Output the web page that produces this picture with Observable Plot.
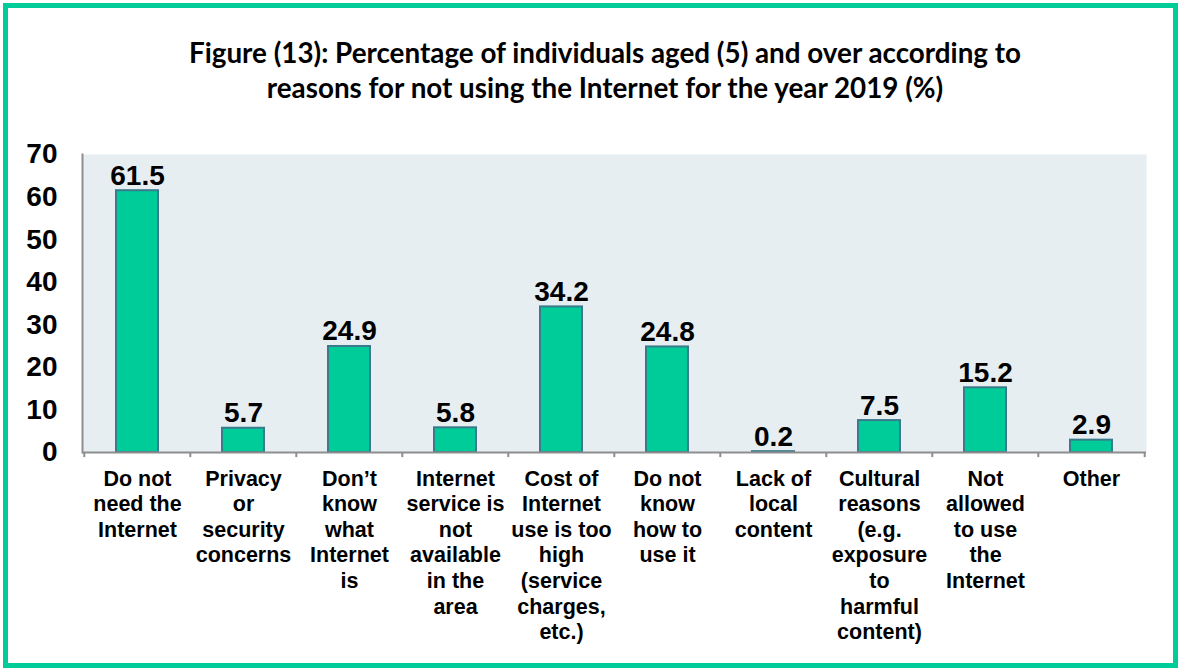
<!DOCTYPE html>
<html>
<head>
<meta charset="utf-8">
<script src="https://cdn.jsdelivr.net/npm/d3@7"></script>
<script src="https://cdn.jsdelivr.net/npm/@observablehq/plot@0.6"></script>
<style>
  html, body { margin: 0; padding: 0; background: #fff; }
  #wrap { position: relative; width: 1178px; height: 668px; overflow: hidden; }
  #border { position: absolute; left: 3px; top: 3px; width: 1175px; height: 665px; box-sizing: border-box; border: 5px solid #00CC99; }
  #title { position: absolute; left: 0; top: 35px; width: 1210px; text-align: center; font-family: Lato, "Open Sans", sans-serif; font-weight: bold; font-size: 27.8px; line-height: 35px; color: #000; }
  #chart { position: absolute; left: 0; top: 0; }
</style>
</head>
<body>
<div id="wrap">
  <div id="border"></div>
  <div id="title">Figure (13): Percentage of individuals aged (5) and over according to<br>reasons for not using the Internet for the year 2019 (%)</div>
  <div id="chart"></div>
</div>
<script>
const categories = [
  "Do not\nneed the\nInternet",
  "Privacy\nor\nsecurity\nconcerns",
  "Don’t\nknow\nwhat\nInternet\nis",
  "Internet\nservice is\nnot\navailable\nin the\narea",
  "Cost of\nInternet\nuse is too\nhigh\n(service\ncharges,\netc.)",
  "Do not\nknow\nhow to\nuse it",
  "Lack of\nlocal\ncontent",
  "Cultural\nreasons\n(e.g.\nexposure\nto\nharmful\ncontent)",
  "Not\nallowed\nto use\nthe\nInternet",
  "Other"
];
const values = [61.5, 5.7, 24.9, 5.8, 34.2, 24.8, 0.2, 7.5, 15.2, 2.9];
const yTicks = [0, 10, 20, 30, 40, 50, 60, 70];

const data = categories.map((c, i) => ({category: c, value: values[i]}));

const W = 1178, H = 668;
const mL = 82, mR = 32;
const step = (W - mL - mR) / categories.length;

const chart = Plot.plot({
  width: W,
  height: H,
  marginTop: 154,
  marginBottom: 216,
  marginLeft: mL,
  marginRight: mR,
  style: {fontFamily: "Arial, 'Liberation Sans', sans-serif", color: "#000", background: "transparent", overflow: "visible"},
  x: {domain: categories, paddingInner: 0.6, paddingOuter: 0.3, label: null},
  y: {domain: [0, 70], ticks: yTicks, label: null},
  marks: [
    Plot.frame({fill: "#E7EEF2", stroke: null}),
    Plot.gridY(yTicks, {stroke: "#8E8E8E", strokeOpacity: 1, strokeWidth: 2, x1: mL - 10, x2: W - mR}),
    Plot.frame({anchor: "left", stroke: "#8E8E8E", strokeWidth: 2}),
    // category boundary ticks below the axis (left edge of each band, plus right edge of the last band)
    Plot.ruleX(categories, {x: d => d, dx: -step / 2, y1: 0, y2: -1.2, stroke: "#8E8E8E", strokeWidth: 2}),
    Plot.ruleX(categories.slice(-1), {x: d => d, dx: step / 2, y1: 0, y2: -1.2, stroke: "#8E8E8E", strokeWidth: 2}),
    Plot.barY(data, {x: "category", y: "value", fill: "#00CC99", stroke: "#3A7A8C", strokeWidth: 2}),
    Plot.ruleY([0], {stroke: "#8E8E8E", strokeWidth: 2}),
    Plot.text(data, {x: "category", y: "value", text: d => d.value.toFixed(1), lineAnchor: "bottom", dy: -6, fontSize: 28, fontWeight: "bold", fill: "#000"}),
    Plot.axisY({ticks: yTicks, tickSize: 0, tickPadding: 25, fontSize: 28, fontWeight: "bold", label: null}),
    Plot.axisX({tickSize: 0, tickPadding: 15, fontSize: 21.5, fontWeight: "bold", lineHeight: 1.19, label: null})
  ]
});
document.getElementById("chart").appendChild(chart);
</script>
</body>
</html>
